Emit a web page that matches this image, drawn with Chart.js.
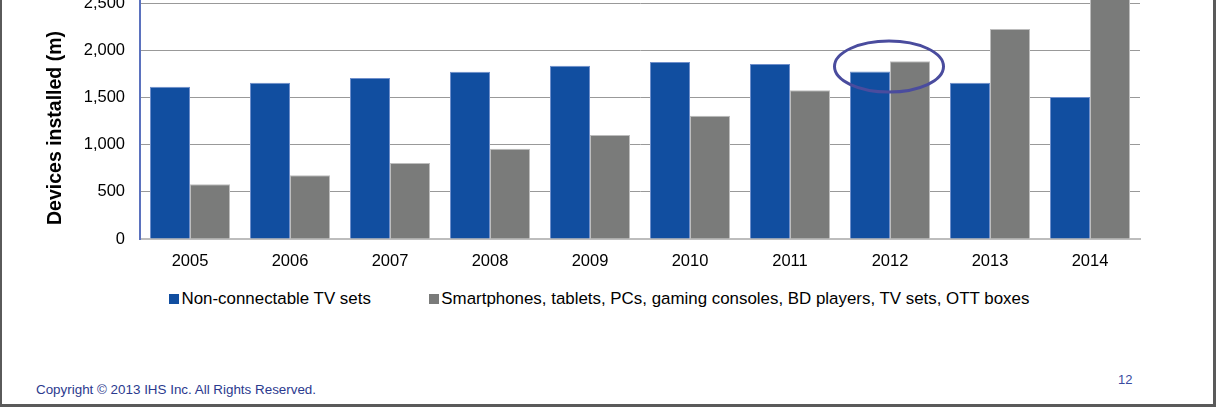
<!DOCTYPE html>
<html>
<head>
<meta charset="utf-8">
<script src="https://cdn.jsdelivr.net/npm/chart.js@4.4.1/dist/chart.umd.min.js"></script>
<style>
  html, body { margin: 0; padding: 0; background: #fff; }
  body { width: 1216px; height: 407px; position: relative; overflow: hidden; font-family: "Liberation Sans", Arial, sans-serif; }
  #wrap { position: absolute; left: 0; top: -100px; width: 1216px; height: 380px; }
  #ytitle { position: absolute; left: 54px; top: 127.5px; transform: translate(-50%, -50%) rotate(-90deg); white-space: nowrap; font-weight: bold; font-size: 19.5px; color: #000; }
  #legend { position: absolute; left: 169px; top: 289px; font-size: 16.9px; color: #000; white-space: nowrap; display: flex; align-items: center; }
  .item { display: flex; align-items: center; }
  .sw { width: 10px; height: 10px; margin-right: 2.5px; }
  #copy { position: absolute; left: 36px; top: 382px; font-size: 13.4px; color: #2B3A8E; white-space: nowrap; }
  #page { position: absolute; left: 1118px; top: 372px; font-size: 13px; color: #3A4AA0; }
  #border { position: absolute; left: 0; top: -10px; width: 1216px; height: 417px; box-sizing: border-box; border-left: 2px solid #5a5a5a; border-right: 3px solid #5a5a5a; border-bottom: 3px solid #5a5a5a; pointer-events: none; }
</style>
</head>
<body>
<div id="wrap"><canvas id="c"></canvas></div>
<div id="ytitle">Devices installed (m)</div>
<div id="legend"></div>
<div id="copy">Copyright © 2013 IHS Inc. All Rights Reserved.</div>
<div id="page">12</div>
<div id="border"></div>
<script>
const years = ['2005','2006','2007','2008','2009','2010','2011','2012','2013','2014'];
const nonConnectable = [1615, 1660, 1710, 1775, 1840, 1880, 1858, 1778, 1658, 1508];
const connectable = [580, 678, 808, 958, 1103, 1308, 1580, 1888, 2230, 2750];
const seriesNames = ['Non-connectable TV sets', 'Smartphones, tablets, PCs, gaming consoles, BD players, TV sets, OTT boxes'];
const seriesColors = ['#114EA0', '#7A7B7A'];
const seriesEdges = ['#6F8FCB', '#BDBDBD'];
const highlightIndex = 7;
const highlightValue = 1831;

const ellipsePlugin = {
  id: 'ellipse',
  afterDatasetsDraw(chart) {
    const ctx = chart.ctx;
    const x = chart.scales.x.getPixelForValue(highlightIndex) - 1;
    const y = chart.scales.y.getPixelForValue(highlightValue);
    ctx.save();
    ctx.beginPath();
    ctx.ellipse(x, y, 54.5, 25.5, 0, 0, Math.PI * 2);
    ctx.strokeStyle = '#4A4C9E';
    ctx.lineWidth = 3;
    ctx.stroke();
    ctx.restore();
  }
};

new Chart(document.getElementById('c'), {
  type: 'bar',
  data: {
    labels: years,
    datasets: [
      { label: seriesNames[0], data: nonConnectable, backgroundColor: seriesColors[0], borderColor: seriesEdges[0], borderWidth: {top: 1, left: 1, right: 1, bottom: 0}, barPercentage: 1.0, categoryPercentage: 0.8 },
      { label: seriesNames[1], data: connectable, backgroundColor: seriesColors[1], borderColor: seriesEdges[1], borderWidth: {top: 1, left: 1, right: 1, bottom: 0}, barPercentage: 1.0, categoryPercentage: 0.8 }
    ]
  },
  options: {
    responsive: true,
    maintainAspectRatio: false,
    animation: false,
    layout: { padding: { top: 56.4, left: 0, right: 76, bottom: 0 } },
    plugins: { legend: { display: false }, tooltip: { enabled: false } },
    scales: {
      x: {
        grid: { display: false, drawTicks: false },
        border: { color: '#BDBDBD', width: 2 },
        ticks: { color: '#000', font: { family: 'Liberation Sans', size: 16.5 }, padding: 13, maxRotation: 0 },
        afterFit(s) { s.height = 41; }
      },
      y: {
        min: 0, max: 3000,
        grid: { color: '#999999', lineWidth: 1, drawTicks: false },
        border: { color: '#5B72BE', width: 2 },
        ticks: { stepSize: 500, color: '#000', font: { family: 'Liberation Sans', size: 16.5 }, padding: 15,
          callback: v => v.toLocaleString('en-US') },
        afterFit(s) { s.width = 140; }
      }
    }
  },
  plugins: [ellipsePlugin]
});

const lg = document.getElementById('legend');
seriesNames.forEach((n, i) => {
  const it = document.createElement('span');
  it.className = 'item';
  if (i > 0) it.style.marginLeft = '58px';
  const sw = document.createElement('span');
  sw.className = 'sw';
  sw.style.background = seriesColors[i];
  const t = document.createElement('span');
  t.textContent = n;
  it.appendChild(sw); it.appendChild(t);
  lg.appendChild(it);
});
</script>
</body>
</html>
